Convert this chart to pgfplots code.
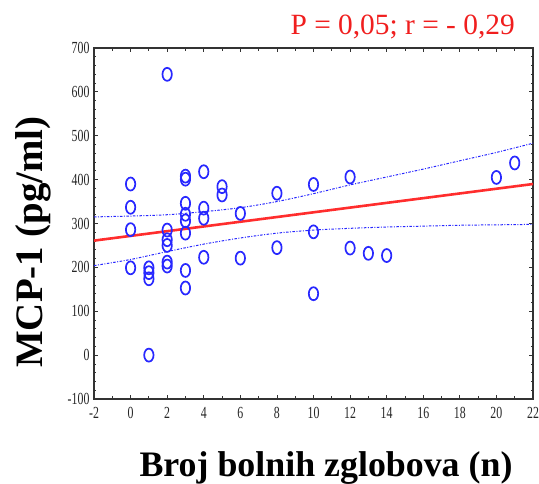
\documentclass[border=0pt]{standalone}
\usepackage{fontspec}
\setmainfont{Liberation Serif}
\usepackage{graphicx}
\usepackage{pgfplots}
\pgfplotsset{compat=1.18}
\definecolor{ptblue}{RGB}{40,40,255}
\definecolor{lnred}{RGB}{255,45,45}
\definecolor{ttred}{RGB}{240,30,30}
\newcommand\tl[1]{\scalebox{0.7}[1]{#1}}
\begin{document}
\begin{tikzpicture}
\begin{axis}[
  scale only axis, width=439bp, height=351bp,
  at={(0,0)}, anchor=south west,
  xmin=-2, xmax=22, ymin=-100, ymax=700,
  xtick={-2,0,...,22},
  xticklabels={\tl{-2},\tl{0},\tl{2},\tl{4},\tl{6},\tl{8},\tl{10},\tl{12},\tl{14},\tl{16},\tl{18},\tl{20},\tl{22}},
  ytick={-100,0,...,700},
  yticklabels={\tl{-100},\tl{0},\tl{100},\tl{200},\tl{300},\tl{400},\tl{500},\tl{600},\tl{700}},
  minor x tick num=1, minor y tick num=4,
  tick label style={font=\fontsize{17}{17}\selectfont, text=black!85},
  xticklabel style={yshift=-5bp},
  yticklabel style={xshift=-1bp},
  major tick length=4bp, minor tick length=2.5bp,
  tick style={black!80, line width=0.8bp},
  tick align=inside,
  axis line style={black!80, line width=1.1bp},
  clip=false,
]
% confidence bands
\addplot[ptblue, line width=1bp, dash pattern=on 2.5bp off 1.5bp on 1bp off 1.5bp, smooth]
  coordinates {(-2,315)(0,317)(2,320)(4,327)(6,336)(8,350)(10,368)(12,388)(14,406)(16,424)(18,443)(20,462)(22,483)};
\addplot[ptblue, line width=1bp, dash pattern=on 2.5bp off 1.5bp on 1bp off 1.5bp, smooth]
  coordinates {(-2,204)(0,218)(2,236)(4,253)(6,267)(8,278)(10,285)(12,289)(14,292)(16,294)(18,296)(20,297)(22,298)};
% regression line
\addplot[lnred, line width=2.6bp] coordinates {(-2,261)(22,390)};
% data
\addplot[only marks, mark=o, mark size=6.5bp, mark options={ptblue, xscale=0.72, line width=1.7bp}]
  coordinates {
  (0,390)(0,337)(0,286)(0,199)
  (1,199)(1,188)(1,174)(1,0)
  (2,640)(2,285)(2,263)(2,250)(2,212)(2,203)
  (3,408)(3,401)(3,346)(3,321)(3,306)(3,278)(3,193)(3,153)
  (4,418)(4,335)(4,312)(4,223)
  (5,384)(5,365)
  (6,323)(6,221)
  (8,369)(8,245)
  (10,389)(10,281)(10,140)
  (12,406)(12,244)
  (13,232)(14,227)
  (20,405)(21,438)
  };
\end{axis}
\node[anchor=base east, text=ttred, font=\fontsize{29.5}{30}\selectfont, inner sep=0pt] at (421bp,364bp) {P = 0,05; r = - 0,29};
\node[anchor=base, font=\fontsize{36}{36}\selectfont\bfseries, inner sep=0pt] at (232bp,-77bp) {Broj bolnih zglobova (n)};
\node[anchor=base, rotate=90, font=\fontsize{39}{39}\selectfont\bfseries, inner sep=0pt] at (-51bp,157bp) {MCP-1 (pg/ml)};
\pgfresetboundingbox
\path (-94bp,-85bp) rectangle (445bp,399bp);
\end{tikzpicture}
\end{document}
